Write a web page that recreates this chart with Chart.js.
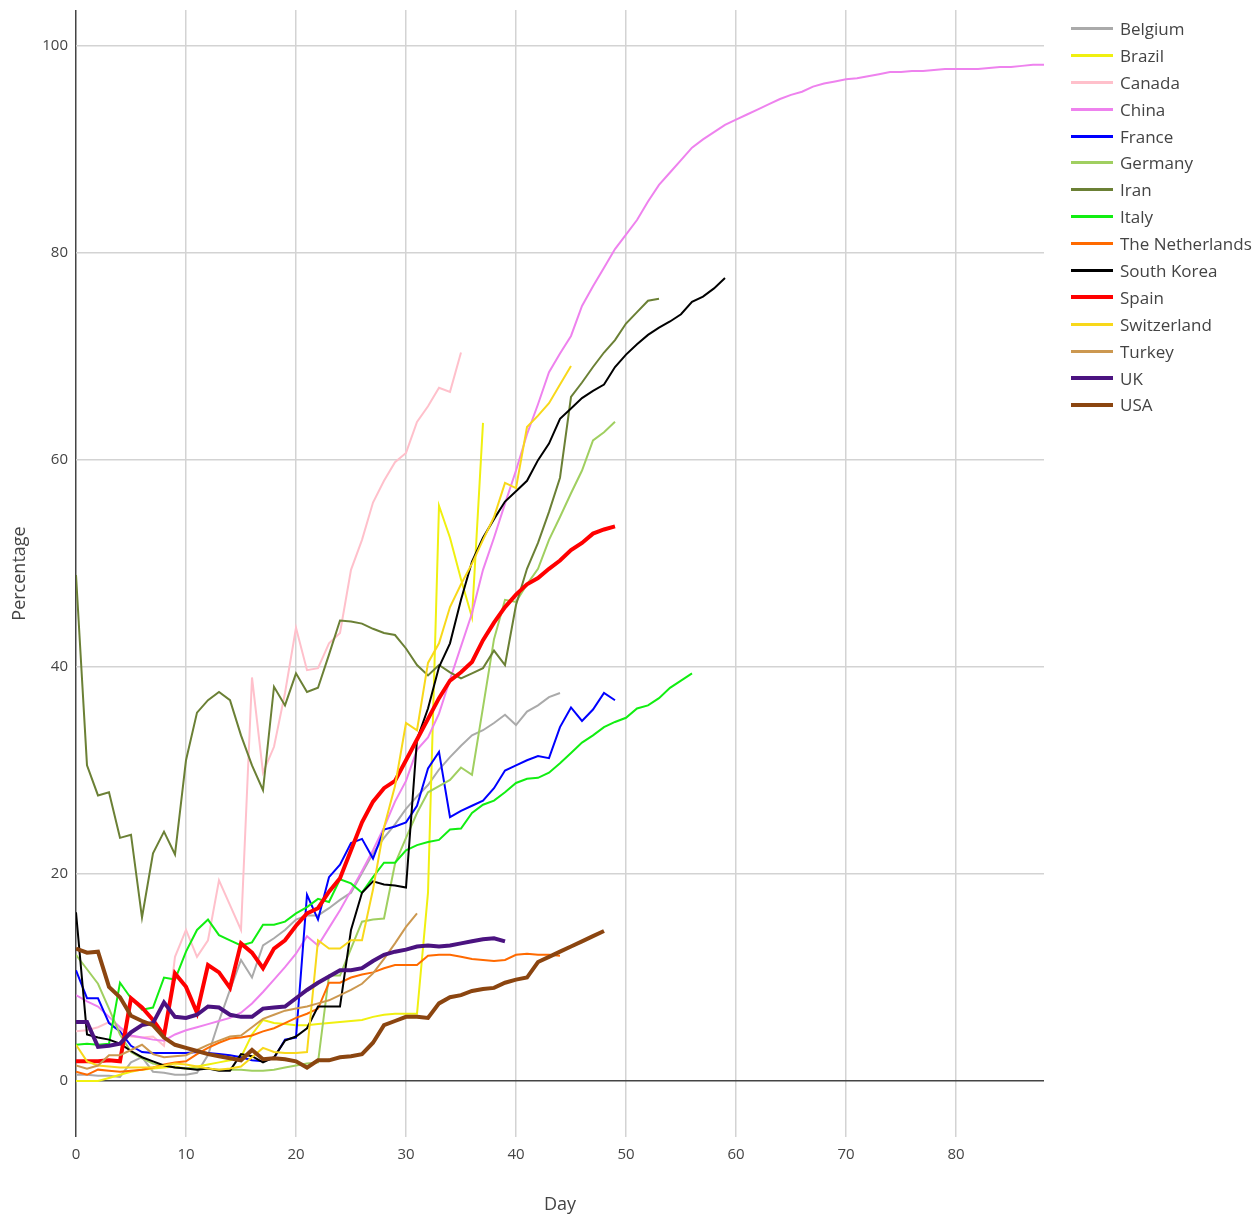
<!DOCTYPE html>
<html>
<head>
<meta charset="utf-8">
<script src="https://cdn.jsdelivr.net/npm/chart.js@4.4.1/dist/chart.umd.min.js"></script>
<style>
  body { margin: 0; background: #fff; font-family: "Open Sans", sans-serif; }
  #wrap { position: relative; width: 1260px; height: 1217px; }
  #legend { position: absolute; left: 1071px; top: 15px; }
  .item { height: 26.9px; display: flex; align-items: center; font-size: 17px; color: #444; }
  .swatch { width: 42px; margin-right: 7px; }
</style>
</head>
<body>
<div id="wrap">
  <canvas id="chart" width="1260" height="1217"></canvas>
  <div id="legend"></div>
</div>
<script>
// values per day, day 0 = first entry
let belgium = [0.6,0.6,0.5,0.5,0.4,1.8,2.3,0.9,0.8,0.6,0.6,0.8,2.5,5.8,8.8,11.7,10.0,13.1,13.8,14.6,15.6,16.0,16.0,16.7,17.5,18.2,20.1,22.0,23.5,24.8,26.3,27.5,28.6,30.1,31.3,32.4,33.4,33.9,34.6,35.4,34.4,35.7,36.3,37.1,37.5];
let brazil = [0,0,0,0.3,0.6,0.9,1.1,1.2,1.3,1.4,1.2,1.4,1.6,1.8,2.0,2.3,4.5,5.9,5.6,5.5,5.4,5.4,5.5,5.6,5.7,5.8,5.9,6.2,6.4,6.5,6.5,6.5,18.2,55.6,52.5,48.5,44.8,63.6];
let canada = [4.8,4.9,5.2,5.7,5.0,4.3,4.2,4.3,3.4,12.0,14.6,12.0,13.6,19.4,17.0,14.6,39.0,29.8,32.3,37.5,43.8,39.7,39.9,42.3,43.3,49.4,52.3,55.9,58.0,59.8,60.7,63.7,65.2,67.0,66.6,70.4];
let china = [8.3,7.7,7.2,6.2,5.2,4.4,4.2,4.0,3.9,4.5,4.9,5.2,5.5,5.8,6.1,6.6,7.5,8.6,9.8,11.0,12.3,14.0,13.1,14.8,16.5,18.4,20.3,22.3,24.5,27.0,29.0,32.0,33.2,35.5,38.8,42.0,45.2,49.4,52.5,55.8,59.0,62.5,65.4,68.5,70.3,72.0,74.9,76.8,78.6,80.4,81.8,83.2,85.0,86.6,87.8,89.0,90.2,91.0,91.7,92.4,92.9,93.4,93.9,94.4,94.9,95.3,95.6,96.1,96.4,96.6,96.8,96.9,97.1,97.3,97.5,97.5,97.6,97.6,97.7,97.8,97.8,97.8,97.8,97.9,98.0,98.0,98.1,98.2,98.2];
let france = [10.7,8.0,8.0,5.6,4.8,3.4,2.8,2.7,2.7,2.7,2.7,2.8,2.7,2.6,2.5,2.3,2.0,1.9,2.2,4.0,4.2,18.0,15.6,19.7,20.9,23.0,23.4,21.5,24.3,24.6,25.0,26.6,30.2,31.8,25.5,26.1,26.6,27.1,28.3,30.0,30.5,31.0,31.4,31.2,34.2,36.1,34.8,35.9,37.5,36.8];
let germany = [12.2,10.8,9.4,7.0,4.5,2.8,2.2,1.7,1.5,1.3,1.2,1.2,1.2,1.1,1.1,1.1,1.0,1.0,1.1,1.3,1.5,1.7,1.8,10.2,10.2,12.8,15.4,15.6,15.7,21.0,23.5,25.9,27.9,28.5,29.1,30.3,29.6,36.1,42.7,46.5,46.3,48.0,49.5,52.3,54.5,56.8,59.0,61.9,62.7,63.7];
let iran = [48.9,30.5,27.6,27.9,23.5,23.8,15.8,22.0,24.1,21.9,31.0,35.6,36.8,37.6,36.8,33.4,30.5,28.1,38.1,36.3,39.4,37.6,38.0,41.2,44.5,44.4,44.2,43.7,43.3,43.1,41.8,40.2,39.2,40.2,39.5,38.9,39.4,39.9,41.6,40.2,46.0,49.5,52.0,55.0,58.3,66.1,67.5,69.0,70.4,71.6,73.2,74.3,75.4,75.6];
let italy = [3.5,3.6,3.5,3.6,9.5,8.0,6.9,7.1,10.0,9.8,12.5,14.6,15.6,14.1,13.6,13.1,13.4,15.1,15.1,15.4,16.2,16.8,17.6,17.3,19.5,19.1,18.2,19.7,21.1,21.1,22.3,22.8,23.1,23.3,24.3,24.4,25.9,26.7,27.1,27.9,28.8,29.2,29.3,29.8,30.7,31.7,32.7,33.4,34.2,34.7,35.1,36.0,36.3,37.0,38.0,38.7,39.4];
let netherlands = [0.9,0.6,1.1,1.0,0.9,1.0,1.1,1.3,1.6,1.8,1.9,2.6,3.2,3.7,4.1,4.2,4.4,4.8,5.1,5.6,6.1,6.5,7.0,9.5,9.5,10.0,10.3,10.5,10.9,11.2,11.2,11.2,12.1,12.2,12.2,12.0,11.8,11.7,11.6,11.7,12.2,12.3,12.2,12.2,12.1];
let southKorea = [16.3,4.5,4.2,4.0,3.6,2.9,2.3,1.9,1.5,1.3,1.2,1.1,1.2,1.0,1.0,2.6,2.4,1.8,2.3,3.9,4.3,5.1,7.2,7.2,7.2,14.6,18.2,19.3,19.0,18.9,18.7,33.0,36.0,40.0,42.3,46.5,50.2,52.5,54.3,56.0,57.0,58.0,60.0,61.6,64.0,65.0,66.0,66.7,67.3,69.0,70.2,71.2,72.1,72.8,73.4,74.1,75.3,75.8,76.6,77.6];
let spain = [1.9,1.9,1.9,2.0,1.9,8.0,7.1,5.9,4.4,10.4,9.1,6.6,11.2,10.5,9.0,13.3,12.4,10.9,12.8,13.6,15.0,16.2,16.7,18.3,19.6,22.3,25.0,27.0,28.3,29.0,31.0,33.0,35.0,37.0,38.7,39.5,40.5,42.6,44.3,45.8,47.0,48.0,48.6,49.5,50.3,51.3,52.0,52.9,53.3,53.6];
let switzerland = [3.5,1.9,1.5,1.4,1.3,1.3,1.3,1.3,1.5,1.7,1.6,1.4,1.2,1.1,1.2,1.4,2.3,3.2,2.8,2.7,2.7,2.8,13.6,12.8,12.8,13.6,13.6,18.5,24.5,28.5,34.6,33.9,40.4,42.3,45.8,48.0,50.0,52.3,54.5,57.8,57.3,63.2,64.3,65.5,67.3,69.1];
let turkey = [1.5,1.2,1.5,2.5,2.5,3.0,3.5,2.6,2.3,2.4,2.5,3.0,3.5,3.9,4.3,4.4,5.2,6.0,6.4,6.8,7.0,7.2,7.5,7.8,8.3,8.8,9.4,10.4,11.8,13.3,14.9,16.2];
let uk = [5.7,5.7,3.3,3.4,3.6,4.7,5.4,5.6,7.6,6.2,6.1,6.4,7.2,7.1,6.4,6.2,6.2,7.0,7.1,7.2,8.0,8.8,9.5,10.1,10.7,10.7,10.9,11.6,12.2,12.5,12.7,13.0,13.1,13.0,13.1,13.3,13.5,13.7,13.8,13.5];
let usa = [12.8,12.4,12.5,9.1,8.1,6.3,5.8,5.4,4.2,3.5,3.2,2.9,2.6,2.4,2.2,2.0,3.0,2.1,2.2,2.1,1.9,1.3,2.0,2.0,2.3,2.4,2.6,3.7,5.4,5.8,6.2,6.2,6.1,7.5,8.1,8.3,8.7,8.9,9.0,9.5,9.8,10.0,11.5,12.0,12.5,13.0,13.5,14.0,14.5];

let names = ['Belgium','Brazil','Canada','China','France','Germany','Iran','Italy','The Netherlands','South Korea','Spain','Switzerland','Turkey','UK','USA'];
let series = [belgium,brazil,canada,china,france,germany,iran,italy,netherlands,southKorea,spain,switzerland,turkey,uk,usa];
let colors = ['#aaaaaa','#f0f010','#ffc0cb','#ee82ee','#0000ff','#a0cf60','#6b8035','#11ee11','#ff6a00','#000000','#ff0000','#f8d81a','#cc9850','#4b1380','#8b4510'];
let widths = [2,2,2,2,2,2,2,2,2,2,4,2,2,4,4];
let xTicks = [0,10,20,30,40,50,60,70,80];
let yTicks = [0,20,40,60,80,100];

let datasets = series.map(function(vals, i){
    return {
        label: names[i],
        data: vals.map(function(v, d){ return {x: d, y: v}; }),
        borderColor: colors[i],
        backgroundColor: colors[i],
        borderWidth: widths[i],
        pointRadius: 0,
        tension: 0,
        fill: false,
        order: series.length - i
    };
});

function gridColor(ctx){
    return ctx.tick && ctx.tick.value === 0 ? '#444444' : '#d3d3d3';
}

new Chart(document.getElementById('chart'), {
    type: 'line',
    data: { datasets: datasets },
    options: {
        responsive: false,
        animation: false,
        layout: { padding: { left: 0, right: 216, top: 10, bottom: 0 } },
        plugins: { legend: { display: false }, tooltip: { enabled: false } },
        scales: {
            x: {
                type: 'linear',
                min: 0, max: 88,
                afterBuildTicks: function(axis){ axis.ticks = xTicks.map(function(v){ return {value: v}; }); },
                afterFit: function(axis){ axis.height = 80; },
                grid: { color: gridColor, lineWidth: 1.5, drawTicks: false },
                border: { display: false },
                ticks: { color: '#444', font: { family: 'Open Sans', size: 15 }, padding: 9, maxRotation: 0 },
                title: { display: true, text: 'Day', color: '#444', font: { family: 'Open Sans', size: 18 }, padding: { top: 0, bottom: 1 } }
            },
            y: {
                min: -5.41, max: 103.5,
                afterBuildTicks: function(axis){ axis.ticks = yTicks.map(function(v){ return {value: v}; }); },
                afterFit: function(axis){ axis.width = 76; axis.paddingTop = 0; axis.paddingBottom = 0; },
                grid: { color: gridColor, lineWidth: 1.5, drawTicks: false },
                border: { display: false },
                ticks: { color: '#444', font: { family: 'Open Sans', size: 15 }, padding: 8 },
                title: { display: true, text: 'Percentage', color: '#444', font: { family: 'Open Sans', size: 18 }, padding: { top: 9, bottom: 4 } }
            }
        }
    }
});

// legend built from the same arrays
let legend = document.getElementById('legend');
names.forEach(function(name, i){
    let row = document.createElement('div');
    row.className = 'item';
    let sw = document.createElement('div');
    sw.className = 'swatch';
    sw.style.height = (widths[i] > 2 ? 4 : 3) + 'px';
    sw.style.background = colors[i];
    row.appendChild(sw);
    let t = document.createElement('span');
    t.textContent = name;
    row.appendChild(t);
    legend.appendChild(row);
});
</script>
</body>
</html>
